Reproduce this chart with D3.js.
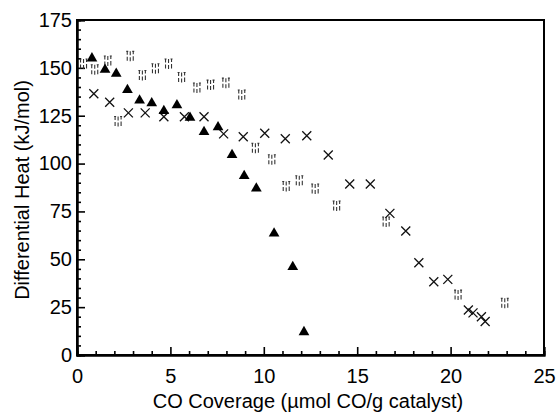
<!DOCTYPE html>
<html>
<head>
<meta charset="utf-8">
<script src="https://cdn.jsdelivr.net/npm/d3@7"></script>
<style>
  html, body { margin: 0; padding: 0; background: #fff; }
  svg { display: block; font-family: "Liberation Sans", Arial, Helvetica, sans-serif; }
</style>
</head>
<body>
<svg id="chart" width="557" height="415"></svg>
<script>
// ---- data ----
const triX = [0.8, 1.5, 2.1, 2.7, 3.35, 4.0, 4.65, 5.35, 6.05, 6.8, 7.55, 8.3, 8.95, 9.6, 10.55, 11.55, 12.15];
const triY = [155, 149, 147, 138.5, 133, 131.5, 127.5, 130.5, 124, 116.5, 119, 104.5, 93.5, 87, 63.5, 46, 12];

const crossX = [0.9, 1.75, 2.75, 3.65, 4.65, 5.75, 6.8, 7.85, 8.9, 10.05, 11.15, 12.3, 13.45, 14.6, 15.7, 16.75, 17.6, 18.3, 19.1, 19.85, 20.95, 21.2, 21.65, 21.85];
const crossY = [136.5, 132, 126.5, 126.5, 124.5, 124.5, 124.5, 115.5, 114, 115.8, 113, 114.5, 104.5, 89.3, 89.3, 74, 64.8, 48.2, 38.3, 39.5, 23.5, 22, 20, 17.5];

const hatchX = [0.35, 0.95, 1.65, 2.85, 2.2, 3.5, 4.2, 4.9, 5.6, 6.42, 7.15, 7.97, 8.82, 9.55, 10.43, 11.2, 11.9, 12.75, 13.9, 16.55, 20.4, 22.9];
const hatchY = [152, 149, 153.6, 156, 122, 146, 149.5, 152, 145, 139.5, 141, 142, 135.8, 108, 102, 88, 91, 86.7, 77.8, 69.5, 31.3, 27];

const xMajorTicks = [0, 5, 10, 15, 20, 25];
const yMajorTicks = [0, 25, 50, 75, 100, 125, 150, 175];
const xTitle = "CO Coverage (\u00b5mol CO/g catalyst)";
const yTitle = "Differential Heat (kJ/mol)";

// ---- layout ----
const svg = d3.select("#chart");
const mLeft = 77, mRight = 544, mTop = 20, mBottom = 355;

const x = d3.scaleLinear().domain([0, 25]).range([mLeft, mRight]);
const y = d3.scaleLinear().domain([0, 175]).range([mBottom, mTop]);

const font = 20;

// frame
svg.append("rect")
  .attr("x", mLeft).attr("y", mTop)
  .attr("width", mRight - mLeft).attr("height", mBottom - mTop)
  .attr("fill", "none").attr("stroke", "#000").attr("stroke-width", 2);

// minor ticks
const xMinor = d3.range(0, 26, 1).filter(v => v % 5 !== 0);
const yMinor = d3.range(0, 176, 5).filter(v => v % 25 !== 0);

const gxMinor = svg.append("g").attr("transform", `translate(0,${mBottom})`)
  .call(d3.axisBottom(x).tickValues(xMinor).tickSize(-4).tickFormat(""));
const gyMinor = svg.append("g").attr("transform", `translate(${mLeft},0)`)
  .call(d3.axisLeft(y).tickValues(yMinor).tickSize(-4).tickFormat(""));

const gx = svg.append("g").attr("transform", `translate(0,${mBottom})`)
  .call(d3.axisBottom(x).tickValues(xMajorTicks).tickSize(-8).tickPadding(14).tickFormat(d3.format("d")));
const gy = svg.append("g").attr("transform", `translate(${mLeft},0)`)
  .call(d3.axisLeft(y).tickValues(yMajorTicks).tickSize(-8).tickPadding(5).tickFormat(d3.format("d")));

[gxMinor, gyMinor, gx, gy].forEach(g => {
  g.select(".domain").attr("stroke", "#000").attr("stroke-width", 2);
  g.selectAll(".tick line").attr("stroke", "#000").attr("stroke-width", 1.6);
  g.selectAll(".tick text").attr("fill", "#000").attr("font-size", font)
    .attr("font-family", '"Liberation Sans", Arial, Helvetica, sans-serif');
});

// axis titles
svg.append("text")
  .attr("x", 308).attr("y", 408)
  .attr("text-anchor", "middle").attr("font-size", font).attr("fill", "#000")
  .text(xTitle);
svg.append("text")
  .attr("transform", "translate(29,190) rotate(-90)")
  .attr("text-anchor", "middle").attr("font-size", font).attr("fill", "#000")
  .text(yTitle);

// ---- marks ----
// hatch-like markers (three small dashed bars)
const hatchPath = "M-3,-5V-1.5M-3,0.5V4.5M0,-5V-1M0,1V5M3,-5V-2M3,0V4.5M-4,-5H-2M2,-5H4";
svg.append("g").selectAll("path")
  .data(hatchX.map((v, i) => [v, hatchY[i]]))
  .join("path")
  .attr("transform", d => `translate(${x(d[0])},${y(d[1])})`)
  .attr("d", hatchPath)
  .attr("fill", "none").attr("stroke", "#333").attr("stroke-width", 1.1);

// crosses
svg.append("g").selectAll("path")
  .data(crossX.map((v, i) => [v, crossY[i]]))
  .join("path")
  .attr("transform", d => `translate(${x(d[0])},${y(d[1])})`)
  .attr("d", "M-4.5,-4.5L4.5,4.5M-4.5,4.5L4.5,-4.5")
  .attr("fill", "none").attr("stroke", "#111").attr("stroke-width", 1.3);

// filled triangles
const tri = d3.symbol().type(d3.symbolTriangle).size(50);
svg.append("g").selectAll("path")
  .data(triX.map((v, i) => [v, triY[i]]))
  .join("path")
  .attr("transform", d => `translate(${x(d[0])},${y(d[1])})`)
  .attr("d", tri)
  .attr("fill", "#000");
</script>
</body>
</html>
